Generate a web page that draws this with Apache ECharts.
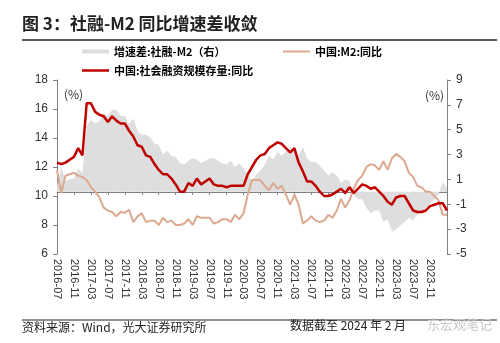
<!DOCTYPE html>
<html>
<head>
<meta charset="utf-8">
<script src="https://cdn.jsdelivr.net/npm/echarts@6/dist/echarts.min.js"></script>
<style>
  html, body { margin: 0; padding: 0; background: #fff; }
  #chart { width: 500px; height: 343px; }
</style>
</head>
<body>
<div id="chart"></div>
<script>
// Monthly categories, first label 2016-07, 93 months in total
const months = [];
for (let y = 2016, m = 7; months.length < 93;) {
  months.push(y + '-' + String(m).padStart(2, '0'));
  m++;
  if (m > 12) { m = 1; y++; }
}
// Labelled months: every fourth one, 2016-07 through 2023-11
const lastLabelIndex = 88;

// 中国:社会融资规模存量:同比 (%)
const tsfYoY = [
  12.3, 12.2, 12.3, 12.5, 12.7, 13.3, 12.8, 16.4, 16.4, 15.8,
  15.6, 15.5, 15.1, 15.5, 15.2, 15.0, 15.0, 14.5, 14.1, 13.5,
  13.4, 12.8, 12.7, 12.2, 11.8, 11.5, 11.5, 11.2, 10.8, 10.3,
  10.3, 10.9, 10.7, 11.2, 10.8, 11.0, 11.2, 10.8, 10.7, 10.7,
  10.6, 10.7, 10.7, 10.7, 10.7, 11.5, 12.0, 12.5, 12.8, 12.9,
  13.3, 13.5, 13.7, 13.6, 13.3, 13.0, 13.3, 12.3, 11.7, 11.0,
  11.0, 10.7, 10.3, 10.0, 10.0, 10.1, 10.3, 10.5, 10.2, 10.6,
  10.2, 10.5, 10.8, 10.7, 10.5, 10.6, 10.3, 10.0, 9.6, 9.4,
  9.9, 10.0, 10.0, 9.5, 9.0, 8.9, 8.9, 9.0, 9.3, 9.4,
  9.5, 9.5, 9.0
];

// 中国:M2:同比 (%)
const m2YoY = [
  11.8, 10.2, 11.4, 11.5, 11.6, 11.4, 11.3, 11.1, 10.6, 10.3,
  9.9, 9.2, 9.0, 8.9, 8.6, 8.9, 8.85, 9.05, 8.2, 8.6,
  8.8, 8.2, 8.3, 8.3, 8.0, 8.5, 8.2, 8.3, 8.0, 8.0,
  8.1, 8.4, 8.0, 8.6, 8.5, 8.5, 8.5, 8.1, 8.2, 8.4,
  8.4, 8.2, 8.7, 8.4, 8.8, 10.1, 11.1, 11.1, 11.1, 10.7,
  10.4, 10.9, 10.5, 10.7, 10.1, 9.4, 10.1, 9.4, 8.1, 8.3,
  8.6, 8.3, 8.2, 8.3, 8.7, 8.5, 9.0, 9.8, 9.2, 9.7,
  10.5, 11.1, 11.4, 12.0, 12.2, 12.1, 11.8, 12.4, 11.8, 12.6,
  12.9, 12.7, 12.4, 11.6, 11.3, 10.7, 10.6, 10.3, 10.3, 10.0,
  9.7, 8.7, 8.7
];

// 增速差:社融-M2 (percentage points, right axis)
const spread = [
  0.5, 2.0, 0.9, 1.0, 1.1, 1.9, 1.5, 5.3, 5.8, 5.5,
  5.7, 6.3, 6.1, 6.6, 6.6, 6.1, 6.15, 5.45, 5.9, 4.9,
  4.6, 4.6, 4.4, 3.9, 3.8, 3.0, 3.3, 2.9, 2.8, 2.3,
  2.2, 2.5, 2.7, 2.6, 2.3, 2.5, 2.7, 2.7, 2.5, 2.3,
  2.2, 2.5, 2.0, 2.3, 1.9, 1.4, 0.9, 1.4, 1.7, 2.2,
  2.9, 2.6, 3.2, 2.9, 3.2, 3.6, 3.2, 2.9, 3.6, 2.7,
  2.4, 2.4, 2.1, 1.7, 1.3, 1.6, 1.3, 0.7, 1.0, 0.9,
  -0.3, -0.6, -0.6, -1.3, -1.7, -1.5, -1.5, -2.4, -2.2, -3.2,
  -3.0, -2.7, -2.4, -2.1, -2.3, -1.8, -1.7, -1.3, -1.0, -0.6,
  -0.2, 0.8, 0.3
];

const leftAxisRange = { min: 6, max: 18, interval: 2 };
const rightAxisRange = { min: -5, max: 9, interval: 2 };

const NAME_SPREAD = '增速差:社融-M2（右）';
const NAME_M2 = '中国:M2:同比';
const NAME_TSF = '中国:社会融资规模存量:同比';

const CJK = '"Noto Sans CJK SC", "Noto Sans", sans-serif';
const NUM = '"Liberation Sans", Arial, sans-serif';

const COLOR_TSF = '#C00000';
const COLOR_M2 = '#DCA98F';
const COLOR_SPREAD = '#DEDEDE';

const chart = echarts.init(document.getElementById('chart'), null, { renderer: 'canvas' });

const legendBase = {
  orient: 'horizontal',
  padding: 0,
  itemWidth: 27,
  itemGap: 4,
  selectedMode: false,
  textStyle: { fontFamily: CJK, fontSize: 11, fontWeight: 'bold', color: '#000' }
};

const axisLine = { show: true, lineStyle: { color: '#7f7f7f', width: 1 } };
const axisTick = { show: true, length: 4, lineStyle: { color: '#7f7f7f' } };
const everyFourth = (i) => i % 4 === 0 && i <= lastLabelIndex;

chart.setOption({
  animation: false,
  backgroundColor: '#fff',
  grid: { left: 57, right: 53, top: 80, bottom: 89, containLabel: false },
  legend: [
    Object.assign({}, legendBase, {
      left: 82, top: 46, itemHeight: 4,
      data: [{ name: NAME_SPREAD, icon: 'rect' }]
    }),
    Object.assign({}, legendBase, {
      left: 283, top: 46, itemHeight: 2,
      data: [{ name: NAME_M2, icon: 'rect' }]
    }),
    Object.assign({}, legendBase, {
      left: 82, top: 65, itemHeight: 2.5,
      data: [{ name: NAME_TSF, icon: 'rect' }]
    })
  ],
  xAxis: {
    type: 'category',
    data: months,
    boundaryGap: false,
    axisLine: axisLine,
    axisTick: { show: true, length: 3, interval: everyFourth, lineStyle: { color: '#7f7f7f' } },
    axisLabel: {
      interval: everyFourth,
      rotate: -90,
      margin: 5,
      fontFamily: NUM,
      fontSize: 11,
      color: '#333'
    },
    splitLine: { show: false }
  },
  yAxis: [
    {
      type: 'value',
      position: 'left',
      min: leftAxisRange.min,
      max: leftAxisRange.max,
      interval: leftAxisRange.interval,
      axisLine: axisLine,
      axisTick: axisTick,
      axisLabel: { margin: 9, fontFamily: NUM, fontSize: 12, color: '#333' },
      splitLine: { show: false }
    },
    {
      type: 'value',
      position: 'right',
      min: rightAxisRange.min,
      max: rightAxisRange.max,
      interval: rightAxisRange.interval,
      axisLine: axisLine,
      axisTick: axisTick,
      axisLabel: { margin: 9, fontFamily: NUM, fontSize: 12, color: '#333' },
      splitLine: { show: false }
    }
  ],
  series: [
    {
      name: NAME_SPREAD,
      type: 'line',
      yAxisIndex: 1,
      data: spread,
      showSymbol: false,
      symbol: 'none',
      color: COLOR_SPREAD,
      lineStyle: { width: 0 },
      areaStyle: { color: COLOR_SPREAD, opacity: 1, origin: 0 },
      z: 1
    },
    {
      name: NAME_M2,
      type: 'line',
      yAxisIndex: 0,
      data: m2YoY,
      showSymbol: false,
      symbol: 'none',
      color: COLOR_M2,
      lineStyle: { width: 2, color: COLOR_M2 },
      z: 2
    },
    {
      name: NAME_TSF,
      type: 'line',
      yAxisIndex: 0,
      data: tsfYoY,
      showSymbol: false,
      symbol: 'none',
      color: COLOR_TSF,
      lineStyle: { width: 2.5, color: COLOR_TSF },
      z: 3
    }
  ],
  graphic: [
    {
      type: 'text', left: 22, top: 15,
      style: { text: '图 3：社融-M2 同比增速差收敛', font: 'bold 17px ' + CJK, fill: '#222' }
    },
    {
      type: 'line', shape: { x1: 22, y1: 40, x2: 497, y2: 40 },
      style: { stroke: '#222', lineWidth: 1.5 }
    },
    {
      type: 'text', left: 64, top: 88,
      style: { text: '(%)', font: '12px ' + CJK, fill: '#333' }
    },
    {
      type: 'text', left: 425, top: 89,
      style: { text: '(%)', font: '12px ' + CJK, fill: '#333' }
    },
    {
      type: 'line', shape: { x1: 22, y1: 320, x2: 497, y2: 320 },
      style: { stroke: '#222', lineWidth: 1.2 }
    },
    {
      type: 'text', left: 22, top: 321,
      style: { text: '资料来源：Wind，光大证券研究所', font: '12px ' + CJK, fill: '#222' }
    },
    {
      type: 'text', left: 290, top: 319,
      style: { text: '数据截至 2024 年 2 月', font: '12px ' + CJK, fill: '#222' }
    },
    {
      type: 'text', left: 427, top: 318,
      style: { text: '东宏观笔记', font: '13px ' + CJK, fill: '#c8c8c8' }
    }
  ]
});
</script>
</body>
</html>
